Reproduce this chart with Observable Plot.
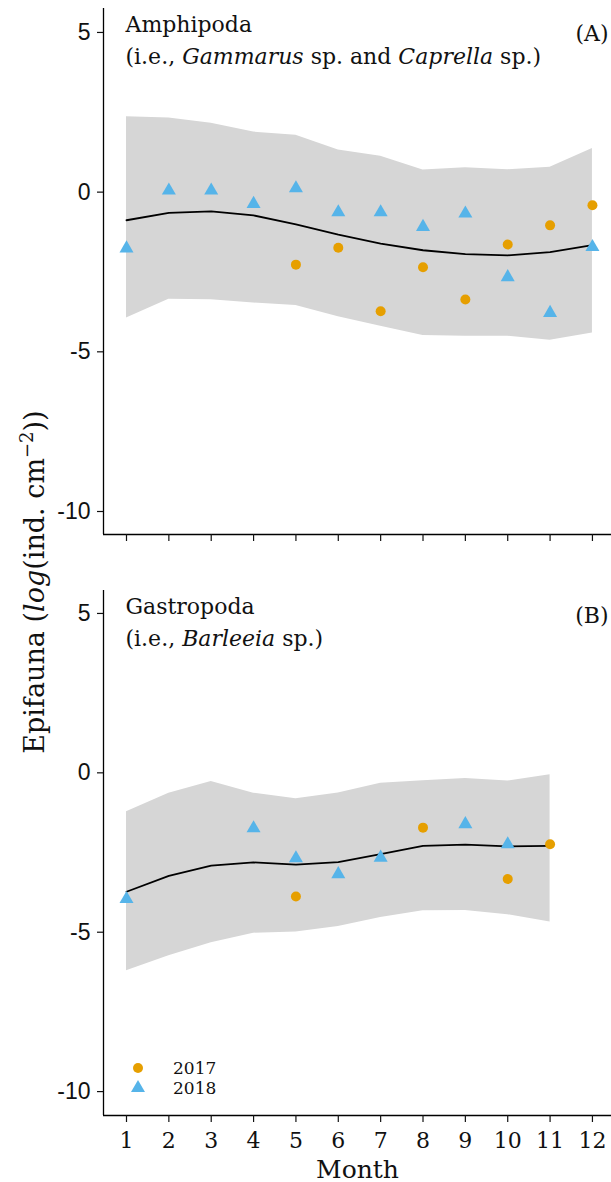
<!DOCTYPE html>
<html><head><meta charset="utf-8">
<script src="https://cdn.jsdelivr.net/npm/d3@7"></script>
<script src="https://cdn.jsdelivr.net/npm/@observablehq/plot@0.6"></script>
<style>
body{margin:0;background:#fff;}
#wrap{position:relative;width:611px;height:1182px;overflow:hidden;background:#fff;font-family:"DejaVu Serif",serif;color:#111;}
.legend{position:absolute;left:128px;top:1058px;font-size:17px;line-height:17px;font-family:"DejaVu Serif",serif;}
.legend .row{display:flex;align-items:center;height:20px;}
.legend svg{width:22px;height:20px;margin-right:23px;}
</style></head><body><div id="wrap"></div>
<script>
// ---------- data ----------
const months = [1,2,3,4,5,6,7,8,9,10,11,12];
const xTicks = [1,2,3,4,5,6,7,8,9,10,11,12];
const yTicks = [-10,-5,0,5];

// Panel A: Amphipoda
const ampMean = [-0.88,-0.65,-0.60,-0.73,-1.01,-1.33,-1.61,-1.82,-1.94,-1.98,-1.88,-1.66];
const ampLo   = [-3.94,-3.35,-3.37,-3.47,-3.55,-3.90,-4.20,-4.49,-4.51,-4.51,-4.64,-4.41];
const ampHi   = [2.36,2.32,2.16,1.88,1.78,1.32,1.12,0.69,0.76,0.70,0.78,1.37];
const amp2017Months = [5,6,7,8,9,10,11,12];
const amp2017 = [-2.27,-1.74,-3.73,-2.35,-3.36,-1.64,-1.04,-0.41];
const amp2018Months = [1,2,3,4,5,6,7,8,9,10,11,12];
const amp2018 = [-1.76,0.05,0.05,-0.37,0.12,-0.63,-0.63,-1.09,-0.67,-2.66,-3.78,-1.72];

// Panel B: Gastropoda
const gasMonths = [1,2,3,4,5,6,7,8,9,10,11];
const gasMean = [-3.73,-3.23,-2.91,-2.81,-2.88,-2.80,-2.55,-2.29,-2.25,-2.31,-2.29];
const gasLo   = [-6.21,-5.74,-5.33,-5.03,-4.99,-4.82,-4.54,-4.33,-4.32,-4.45,-4.68];
const gasHi   = [-1.22,-0.64,-0.27,-0.64,-0.81,-0.63,-0.33,-0.25,-0.18,-0.26,-0.06];
const gas2017Months = [5,8,10,11];
const gas2017 = [-3.88,-1.72,-3.33,-2.24];
const gas2018Months = [1,4,5,6,7,9,10];
const gas2018 = [-3.96,-1.74,-2.68,-3.18,-2.66,-1.61,-2.24];

const years = ["2017","2018"];
const yearColors = ["#E69F00","#56B4E9"];

// ---------- helpers ----------
const band = (ms, mean, lo, hi) => ms.map((m,i) => ({month:m, mean:mean[i], lo:lo[i], hi:hi[i]}));
const pts = (ms, vals) => ms.map((m,i) => ({month:m, value:vals[i]}));
const xDomain = [0.457, 12.45];

function italicize(svg){
  d3.select(svg).selectAll("text").each(function(){
    const t = this.textContent;
    if (!t.includes("*") || this.querySelector("tspan")) return;
    const parts = t.split("*");
    this.textContent = "";
    parts.forEach((p,i) => {
      if (!p) return;
      const ts = document.createElementNS("http://www.w3.org/2000/svg","tspan");
      if (i % 2 === 1) ts.setAttribute("font-style","italic");
      ts.textContent = p;
      this.appendChild(ts);
    });
  });
}

function panel({data, p17, p18, title, subtitle, tag, height, marginTop, marginBottom, yDomain, showLabels}){
  const svg = Plot.plot({
    width: 611, height, marginLeft: 103, marginRight: 0, marginTop, marginBottom,
    style: {fontFamily: "DejaVu Serif", fontSize: "22px", color: "#111", background: "transparent", overflow: "visible"},
    x: {domain: xDomain},
    y: {domain: yDomain},
    marks: [
      Plot.areaY(data, {x: "month", y1: "lo", y2: "hi", fill: "#d6d6d6"}),
      Plot.line(data, {x: "month", y: "mean", stroke: "black", strokeWidth: 1.8}),
      Plot.dot(p17, {x: "month", y: "value", r: 5, fill: yearColors[0], symbol: "circle"}),
      Plot.dot(p18, {x: "month", y: "value", r: 5.2, fill: yearColors[1], symbol: "triangle"}),
      Plot.ruleX([xDomain[0]], {stroke: "black", strokeWidth: 1.3}),
      Plot.ruleY([yDomain[0]], {stroke: "black", strokeWidth: 1.3}),
      Plot.axisY({ticks: yTicks, tickSize: 6, tickPadding: 7, tickFormat: d => String(d), fontFamily: "Liberation Sans", fontSize: 23, label: null, strokeWidth: 1.2}),
      Plot.axisX({ticks: xTicks, tickSize: 7, tickPadding: 10, tickFormat: showLabels ? (d => String(d)) : (() => ""), fontSize: 22, label: showLabels ? "Month" : null, labelAnchor: "center", labelArrow: "none", labelOffset: 62, strokeWidth: 1.2}),
      Plot.text([title], {frameAnchor: "top-left", dx: 22, dy: 23, lineAnchor: "bottom", textAnchor: "start", fontSize: 22}),
      Plot.text([subtitle], {frameAnchor: "top-left", dx: 22, dy: 55, lineAnchor: "bottom", textAnchor: "start", fontSize: 22}),
      Plot.text([tag], {frameAnchor: "top-right", dx: -3, dy: 32, lineAnchor: "bottom", textAnchor: "end", fontSize: 22})
    ]
  });
  italicize(svg);
  return svg;
}

const wrap = document.getElementById("wrap");

const A = panel({
  data: band(months, ampMean, ampLo, ampHi),
  p17: pts(amp2017Months, amp2017), p18: pts(amp2018Months, amp2018),
  title: "Amphipoda", subtitle: "(i.e., *Gammarus* sp. and *Caprella* sp.)", tag: "(A)",
  height: 545, marginTop: 8, marginBottom: 11, yDomain: [-10.72, 5.75], showLabels: false
});
A.style.position = "absolute"; A.style.top = "0px"; A.style.left = "0px";
wrap.appendChild(A);

const B = panel({
  data: band(gasMonths, gasMean, gasLo, gasHi),
  p17: pts(gas2017Months, gas2017), p18: pts(gas2018Months, gas2018),
  title: "Gastropoda", subtitle: "(i.e., *Barleeia* sp.)", tag: "(B)",
  height: 637, marginTop: 45, marginBottom: 67, yDomain: [-10.75, 5.72], showLabels: true
});
B.style.position = "absolute"; B.style.top = "545px"; B.style.left = "0px";
wrap.appendChild(B);
d3.select(B).selectAll("text").filter(function(){ return this.textContent === "Month"; })
  .attr("font-size", 25);

// y-axis title spanning both panels
const ylab = d3.select(wrap).append("svg").attr("width", 70).attr("height", 1182)
  .style("position","absolute").style("left","0px").style("top","0px");
const yt = ylab.append("text")
  .attr("transform","translate(44,582) rotate(-90)")
  .attr("text-anchor","middle").attr("font-family","DejaVu Serif").attr("font-size",27).attr("fill","#111");
yt.append("tspan").text("Epifauna (");
yt.append("tspan").attr("font-style","italic").text("log");
yt.append("tspan").text("(ind. cm");
yt.append("tspan").attr("dy",-11).attr("font-size",18).text("\u22122");
yt.append("tspan").attr("dy",11).text("))");

// legend
const leg = d3.select(wrap).append("div").attr("class","legend");
years.forEach((y,i) => {
  const row = leg.append("div").attr("class","row");
  const s = row.append("svg");
  const sym = d3.symbol(i === 0 ? d3.symbolCircle : d3.symbolTriangle, Math.PI * (i === 0 ? 25 : 27));
  s.append("path").attr("transform","translate(10,10)").attr("d", sym()).attr("fill", yearColors[i]);
  row.append("span").text(y);
});
</script></body></html>
